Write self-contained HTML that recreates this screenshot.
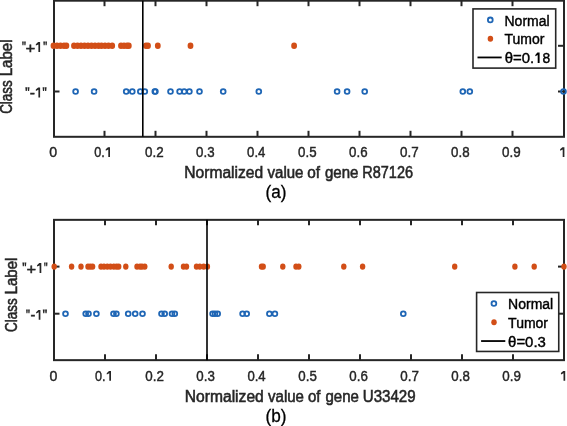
<!DOCTYPE html>
<html><head><meta charset="utf-8"><style>
html,body{margin:0;padding:0;background:#fff;}
body{width:567px;height:426px;overflow:hidden;}
svg{display:block;will-change:transform;}
text{font-family:"Liberation Sans", sans-serif;fill:#262626;}
.tk{stroke:#262626;stroke-width:0.45px;}
.lg{fill:#000;stroke:#000;stroke-width:0.4px;}
.xl{stroke:#262626;stroke-width:0.55px;}
.tg{fill:#000;stroke:#000;stroke-width:0.3px;}
</style></head><body>
<svg width="567" height="426" viewBox="0 0 567 426">
<rect width="567" height="426" fill="#fff"/>

<rect x="54.0" y="0.7" width="510.0" height="136.10000000000002" fill="none" stroke="#262626" stroke-width="2"/>
<text class="tk" x="49.15" y="157.0" font-size="15.5" textLength="7.88" lengthAdjust="spacingAndGlyphs">0</text>
<line x1="104.5" y1="136.8" x2="104.5" y2="130.8" stroke="#262626" stroke-width="2"/>
<line x1="104.5" y1="0.7" x2="104.5" y2="6.2" stroke="#262626" stroke-width="2"/>
<text class="tk" x="94.19" y="157.0" font-size="15.5" textLength="10.57" lengthAdjust="spacingAndGlyphs">0.</text>
<path d="M110.00,147.20 L110.00,156.90 L108.30,156.90 L108.30,149.53 L105.80,150.69 L105.70,149.33 L108.00,147.20 Z" fill="#262626"/>
<line x1="155.5" y1="136.8" x2="155.5" y2="130.8" stroke="#262626" stroke-width="2"/>
<line x1="155.5" y1="0.7" x2="155.5" y2="6.2" stroke="#262626" stroke-width="2"/>
<text class="tk" x="145.07" y="157.0" font-size="15.5" textLength="18.61" lengthAdjust="spacingAndGlyphs">0.2</text>
<line x1="206.5" y1="136.8" x2="206.5" y2="130.8" stroke="#262626" stroke-width="2"/>
<line x1="206.5" y1="0.7" x2="206.5" y2="6.2" stroke="#262626" stroke-width="2"/>
<text class="tk" x="196.07" y="157.0" font-size="15.5" textLength="18.49" lengthAdjust="spacingAndGlyphs">0.3</text>
<line x1="257.5" y1="136.8" x2="257.5" y2="130.8" stroke="#262626" stroke-width="2"/>
<line x1="257.5" y1="0.7" x2="257.5" y2="6.2" stroke="#262626" stroke-width="2"/>
<text class="tk" x="247.08" y="157.0" font-size="15.5" textLength="18.27" lengthAdjust="spacingAndGlyphs">0.4</text>
<line x1="308.5" y1="136.8" x2="308.5" y2="130.8" stroke="#262626" stroke-width="2"/>
<line x1="308.5" y1="0.7" x2="308.5" y2="6.2" stroke="#262626" stroke-width="2"/>
<text class="tk" x="298.07" y="157.0" font-size="15.5" textLength="18.49" lengthAdjust="spacingAndGlyphs">0.5</text>
<line x1="359.5" y1="136.8" x2="359.5" y2="130.8" stroke="#262626" stroke-width="2"/>
<line x1="359.5" y1="0.7" x2="359.5" y2="6.2" stroke="#262626" stroke-width="2"/>
<text class="tk" x="349.07" y="157.0" font-size="15.5" textLength="18.49" lengthAdjust="spacingAndGlyphs">0.6</text>
<line x1="410.5" y1="136.8" x2="410.5" y2="130.8" stroke="#262626" stroke-width="2"/>
<line x1="410.5" y1="0.7" x2="410.5" y2="6.2" stroke="#262626" stroke-width="2"/>
<text class="tk" x="400.07" y="157.0" font-size="15.5" textLength="18.61" lengthAdjust="spacingAndGlyphs">0.7</text>
<line x1="461.5" y1="136.8" x2="461.5" y2="130.8" stroke="#262626" stroke-width="2"/>
<line x1="461.5" y1="0.7" x2="461.5" y2="6.2" stroke="#262626" stroke-width="2"/>
<text class="tk" x="451.07" y="157.0" font-size="15.5" textLength="18.49" lengthAdjust="spacingAndGlyphs">0.8</text>
<line x1="512.5" y1="136.8" x2="512.5" y2="130.8" stroke="#262626" stroke-width="2"/>
<line x1="512.5" y1="0.7" x2="512.5" y2="6.2" stroke="#262626" stroke-width="2"/>
<text class="tk" x="502.07" y="157.0" font-size="15.5" textLength="18.61" lengthAdjust="spacingAndGlyphs">0.9</text>
<path d="M564.40,147.20 L564.40,156.90 L562.70,156.90 L562.70,149.53 L560.20,150.69 L560.10,149.33 L562.40,147.20 Z" fill="#262626"/>
<line x1="54.0" y1="45.8" x2="59.5" y2="45.8" stroke="#262626" stroke-width="2"/>
<line x1="564.0" y1="45.8" x2="558.0" y2="45.8" stroke="#262626" stroke-width="2"/>
<line x1="54.0" y1="91.5" x2="59.5" y2="91.5" stroke="#262626" stroke-width="2"/>
<line x1="564.0" y1="91.5" x2="558.0" y2="91.5" stroke="#262626" stroke-width="2"/>
<path d="M22.10,41.50 L23.80,41.50 L23.46,45.30 L22.44,45.30 Z" fill="#262626"/><path d="M24.10,41.50 L25.80,41.50 L25.46,45.30 L24.44,45.30 Z" fill="#262626"/>
<text class="tk" x="25.52" y="52.75" font-size="14.5" textLength="9.83" lengthAdjust="spacingAndGlyphs">+</text>
<path d="M40.10,42.00 L40.10,52.00 L38.40,52.00 L38.40,44.40 L35.90,45.60 L35.80,44.20 L38.10,42.00 Z" fill="#262626"/>
<path d="M43.30,41.50 L45.00,41.50 L44.66,45.30 L43.64,45.30 Z" fill="#262626"/><path d="M45.30,41.50 L47.00,41.50 L46.66,45.30 L45.64,45.30 Z" fill="#262626"/>
<path d="M25.30,87.30 L27.23,87.30 L26.85,91.10 L25.69,91.10 Z" fill="#262626"/><path d="M27.57,87.30 L29.50,87.30 L29.11,91.10 L27.95,91.10 Z" fill="#262626"/>
<text class="tk" x="29.89" y="97.6" font-size="14.5" textLength="5.20" lengthAdjust="spacingAndGlyphs">-</text>
<path d="M40.10,87.40 L40.10,97.50 L38.40,97.50 L38.40,89.82 L35.90,91.04 L35.80,89.62 L38.10,87.40 Z" fill="#262626"/>
<path d="M42.60,87.30 L44.44,87.30 L44.07,91.10 L42.97,91.10 Z" fill="#262626"/><path d="M44.76,87.30 L46.60,87.30 L46.23,91.10 L45.13,91.10 Z" fill="#262626"/>
<circle cx="75.6" cy="91.5" r="2.4" fill="none" stroke="#1f66b5" stroke-width="1.8"/>
<circle cx="94.1" cy="91.5" r="2.4" fill="none" stroke="#1f66b5" stroke-width="1.8"/>
<circle cx="126.2" cy="91.5" r="2.4" fill="none" stroke="#1f66b5" stroke-width="1.8"/>
<circle cx="132.3" cy="91.5" r="2.4" fill="none" stroke="#1f66b5" stroke-width="1.8"/>
<circle cx="140.3" cy="91.5" r="2.4" fill="none" stroke="#1f66b5" stroke-width="1.8"/>
<circle cx="144.8" cy="91.5" r="2.4" fill="none" stroke="#1f66b5" stroke-width="1.8"/>
<circle cx="154.8" cy="91.5" r="2.4" fill="none" stroke="#1f66b5" stroke-width="1.8"/>
<circle cx="155.4" cy="91.5" r="2.4" fill="none" stroke="#1f66b5" stroke-width="1.8"/>
<circle cx="170.5" cy="91.5" r="2.4" fill="none" stroke="#1f66b5" stroke-width="1.8"/>
<circle cx="179.6" cy="91.5" r="2.4" fill="none" stroke="#1f66b5" stroke-width="1.8"/>
<circle cx="184.2" cy="91.5" r="2.4" fill="none" stroke="#1f66b5" stroke-width="1.8"/>
<circle cx="189.4" cy="91.5" r="2.4" fill="none" stroke="#1f66b5" stroke-width="1.8"/>
<circle cx="199.5" cy="91.5" r="2.4" fill="none" stroke="#1f66b5" stroke-width="1.8"/>
<circle cx="223.2" cy="91.5" r="2.4" fill="none" stroke="#1f66b5" stroke-width="1.8"/>
<circle cx="258.8" cy="91.5" r="2.4" fill="none" stroke="#1f66b5" stroke-width="1.8"/>
<circle cx="337.1" cy="91.5" r="2.4" fill="none" stroke="#1f66b5" stroke-width="1.8"/>
<circle cx="347.1" cy="91.5" r="2.4" fill="none" stroke="#1f66b5" stroke-width="1.8"/>
<circle cx="364.7" cy="91.5" r="2.4" fill="none" stroke="#1f66b5" stroke-width="1.8"/>
<circle cx="462.8" cy="91.5" r="2.4" fill="none" stroke="#1f66b5" stroke-width="1.8"/>
<circle cx="469.8" cy="91.5" r="2.4" fill="none" stroke="#1f66b5" stroke-width="1.8"/>
<circle cx="563.5" cy="91.5" r="2.4" fill="none" stroke="#1f66b5" stroke-width="1.8"/>
<ellipse cx="53.5" cy="45.8" rx="2.9" ry="3.3" fill="#D24E17"/>
<ellipse cx="57" cy="45.8" rx="2.9" ry="3.3" fill="#D24E17"/>
<ellipse cx="60.5" cy="45.8" rx="2.9" ry="3.3" fill="#D24E17"/>
<ellipse cx="64" cy="45.8" rx="2.9" ry="3.3" fill="#D24E17"/>
<ellipse cx="66.4" cy="45.8" rx="2.9" ry="3.3" fill="#D24E17"/>
<ellipse cx="74" cy="45.8" rx="2.9" ry="3.3" fill="#D24E17"/>
<ellipse cx="77.5" cy="45.8" rx="2.9" ry="3.3" fill="#D24E17"/>
<ellipse cx="81" cy="45.8" rx="2.9" ry="3.3" fill="#D24E17"/>
<ellipse cx="84.5" cy="45.8" rx="2.9" ry="3.3" fill="#D24E17"/>
<ellipse cx="88" cy="45.8" rx="2.9" ry="3.3" fill="#D24E17"/>
<ellipse cx="91.5" cy="45.8" rx="2.9" ry="3.3" fill="#D24E17"/>
<ellipse cx="95" cy="45.8" rx="2.9" ry="3.3" fill="#D24E17"/>
<ellipse cx="98.5" cy="45.8" rx="2.9" ry="3.3" fill="#D24E17"/>
<ellipse cx="101.5" cy="45.8" rx="2.9" ry="3.3" fill="#D24E17"/>
<ellipse cx="105" cy="45.8" rx="2.9" ry="3.3" fill="#D24E17"/>
<ellipse cx="108.5" cy="45.8" rx="2.9" ry="3.3" fill="#D24E17"/>
<ellipse cx="112.2" cy="45.8" rx="2.9" ry="3.3" fill="#D24E17"/>
<ellipse cx="121" cy="45.8" rx="2.9" ry="3.3" fill="#D24E17"/>
<ellipse cx="124" cy="45.8" rx="2.9" ry="3.3" fill="#D24E17"/>
<ellipse cx="127" cy="45.8" rx="2.9" ry="3.3" fill="#D24E17"/>
<ellipse cx="128.8" cy="45.8" rx="2.9" ry="3.3" fill="#D24E17"/>
<ellipse cx="146" cy="45.8" rx="2.9" ry="3.3" fill="#D24E17"/>
<ellipse cx="148" cy="45.8" rx="2.9" ry="3.3" fill="#D24E17"/>
<ellipse cx="157.8" cy="45.8" rx="2.9" ry="3.3" fill="#D24E17"/>
<ellipse cx="190.5" cy="45.8" rx="2.9" ry="3.3" fill="#D24E17"/>
<ellipse cx="294.1" cy="45.8" rx="2.9" ry="3.3" fill="#D24E17"/>
<line x1="142.8" y1="0.7" x2="142.8" y2="136.8" stroke="#000" stroke-width="1.6"/>
<g transform="translate(11.8,0) rotate(-90)">
<text class="xl" x="-113.82" y="0" font-size="16" textLength="33.55" lengthAdjust="spacingAndGlyphs">Class</text>
<text class="xl" x="-76.34" y="0" font-size="16" textLength="36.88" lengthAdjust="spacingAndGlyphs">Label</text>
</g>
<text class="xl" x="184.33" y="177.9" font-size="16" textLength="78.83" lengthAdjust="spacingAndGlyphs">Normalized</text>
<text class="xl" x="267.53" y="177.9" font-size="16" textLength="35.93" lengthAdjust="spacingAndGlyphs">value</text>
<text class="xl" x="307.14" y="177.9" font-size="16" textLength="12.79" lengthAdjust="spacingAndGlyphs">of</text>
<text class="xl" x="324.94" y="177.9" font-size="16" textLength="33.39" lengthAdjust="spacingAndGlyphs">gene</text>
<text class="xl" x="362.30" y="177.9" font-size="16" textLength="50.69" lengthAdjust="spacingAndGlyphs">R87126</text>
<text class="tg" x="276" y="197.7" font-size="18" text-anchor="middle" textLength="21" lengthAdjust="spacingAndGlyphs">(a)</text>
<rect x="473" y="8.9" width="82.7" height="59.2" fill="#fff" stroke="#262626" stroke-width="1.6"/>
<circle cx="490.3" cy="19.9" r="2.4" fill="none" stroke="#1f66b5" stroke-width="1.8"/>
<ellipse cx="490.4" cy="38.65" rx="2.75" ry="3.0" fill="#D24E17"/>
<line x1="477.5" y1="57.449999999999996" x2="501.7" y2="57.449999999999996" stroke="#000" stroke-width="1.8"/>
<text class="lg" x="504.5" y="25.700000000000003" font-size="14">Normal</text>
<text class="lg" x="504.5" y="44.199999999999996" font-size="14">Tumor</text>
<text class="lg" x="504.77" y="63.05" font-size="14" textLength="29.45" lengthAdjust="spacingAndGlyphs">θ=0.</text>
<path d="M539.60,52.60 L539.60,63.00 L537.70,63.00 L537.70,55.10 L535.40,56.34 L535.30,54.89 L537.40,52.60 Z" fill="#000"/>
<text class="lg" x="542.53" y="63.05" font-size="14" textLength="7.69" lengthAdjust="spacingAndGlyphs">8</text>
<rect x="54.0" y="219.85" width="510.0" height="140.29999999999998" fill="none" stroke="#262626" stroke-width="2"/>
<text class="tk" x="49.45" y="380.8" font-size="15.5" textLength="7.88" lengthAdjust="spacingAndGlyphs">0</text>
<line x1="105.0" y1="360.15" x2="105.0" y2="354.15" stroke="#262626" stroke-width="2"/>
<line x1="105.0" y1="219.85" x2="105.0" y2="225.35" stroke="#262626" stroke-width="2"/>
<text class="tk" x="94.99" y="380.8" font-size="15.5" textLength="10.57" lengthAdjust="spacingAndGlyphs">0.</text>
<path d="M111.00,371.00 L111.00,380.80 L109.30,380.80 L109.30,373.35 L106.80,374.53 L106.70,373.16 L109.00,371.00 Z" fill="#262626"/>
<line x1="156.0" y1="360.15" x2="156.0" y2="354.15" stroke="#262626" stroke-width="2"/>
<line x1="156.0" y1="219.85" x2="156.0" y2="225.35" stroke="#262626" stroke-width="2"/>
<text class="tk" x="145.37" y="380.8" font-size="15.5" textLength="18.61" lengthAdjust="spacingAndGlyphs">0.2</text>
<line x1="207.0" y1="360.15" x2="207.0" y2="354.15" stroke="#262626" stroke-width="2"/>
<line x1="207.0" y1="219.85" x2="207.0" y2="225.35" stroke="#262626" stroke-width="2"/>
<text class="tk" x="196.37" y="380.8" font-size="15.5" textLength="18.49" lengthAdjust="spacingAndGlyphs">0.3</text>
<line x1="258.0" y1="360.15" x2="258.0" y2="354.15" stroke="#262626" stroke-width="2"/>
<line x1="258.0" y1="219.85" x2="258.0" y2="225.35" stroke="#262626" stroke-width="2"/>
<text class="tk" x="247.38" y="380.8" font-size="15.5" textLength="18.27" lengthAdjust="spacingAndGlyphs">0.4</text>
<line x1="309.0" y1="360.15" x2="309.0" y2="354.15" stroke="#262626" stroke-width="2"/>
<line x1="309.0" y1="219.85" x2="309.0" y2="225.35" stroke="#262626" stroke-width="2"/>
<text class="tk" x="298.37" y="380.8" font-size="15.5" textLength="18.49" lengthAdjust="spacingAndGlyphs">0.5</text>
<line x1="360.0" y1="360.15" x2="360.0" y2="354.15" stroke="#262626" stroke-width="2"/>
<line x1="360.0" y1="219.85" x2="360.0" y2="225.35" stroke="#262626" stroke-width="2"/>
<text class="tk" x="349.37" y="380.8" font-size="15.5" textLength="18.49" lengthAdjust="spacingAndGlyphs">0.6</text>
<line x1="411.0" y1="360.15" x2="411.0" y2="354.15" stroke="#262626" stroke-width="2"/>
<line x1="411.0" y1="219.85" x2="411.0" y2="225.35" stroke="#262626" stroke-width="2"/>
<text class="tk" x="400.37" y="380.8" font-size="15.5" textLength="18.61" lengthAdjust="spacingAndGlyphs">0.7</text>
<line x1="462.0" y1="360.15" x2="462.0" y2="354.15" stroke="#262626" stroke-width="2"/>
<line x1="462.0" y1="219.85" x2="462.0" y2="225.35" stroke="#262626" stroke-width="2"/>
<text class="tk" x="451.37" y="380.8" font-size="15.5" textLength="18.49" lengthAdjust="spacingAndGlyphs">0.8</text>
<line x1="513.0" y1="360.15" x2="513.0" y2="354.15" stroke="#262626" stroke-width="2"/>
<line x1="513.0" y1="219.85" x2="513.0" y2="225.35" stroke="#262626" stroke-width="2"/>
<text class="tk" x="502.37" y="380.8" font-size="15.5" textLength="18.61" lengthAdjust="spacingAndGlyphs">0.9</text>
<path d="M565.20,370.90 L565.20,380.70 L563.50,380.70 L563.50,373.25 L561.00,374.43 L560.90,373.06 L563.20,370.90 Z" fill="#262626"/>
<line x1="54.0" y1="266.6" x2="59.5" y2="266.6" stroke="#262626" stroke-width="2"/>
<line x1="564.0" y1="266.6" x2="558.0" y2="266.6" stroke="#262626" stroke-width="2"/>
<line x1="54.0" y1="313.7" x2="59.5" y2="313.7" stroke="#262626" stroke-width="2"/>
<line x1="564.0" y1="313.7" x2="558.0" y2="313.7" stroke="#262626" stroke-width="2"/>
<path d="M22.40,262.50 L24.19,262.50 L23.84,266.30 L22.76,266.30 Z" fill="#262626"/><path d="M24.51,262.50 L26.30,262.50 L25.94,266.30 L24.86,266.30 Z" fill="#262626"/>
<text class="tk" x="26.53" y="273.5" font-size="14.5" textLength="9.60" lengthAdjust="spacingAndGlyphs">+</text>
<path d="M41.30,263.00 L41.30,273.00 L39.60,273.00 L39.60,265.40 L37.10,266.60 L37.00,265.20 L39.30,263.00 Z" fill="#262626"/>
<path d="M44.10,262.50 L45.66,262.50 L45.35,266.30 L44.41,266.30 Z" fill="#262626"/><path d="M45.94,262.50 L47.50,262.50 L47.19,266.30 L46.25,266.30 Z" fill="#262626"/>
<path d="M26.10,309.40 L27.80,309.40 L27.46,313.20 L26.44,313.20 Z" fill="#262626"/><path d="M28.10,309.40 L29.80,309.40 L29.46,313.20 L28.44,313.20 Z" fill="#262626"/>
<text class="tk" x="30.42" y="320.0" font-size="14.5" textLength="4.84" lengthAdjust="spacingAndGlyphs">-</text>
<path d="M40.40,310.00 L40.40,319.80 L38.70,319.80 L38.70,312.35 L36.20,313.53 L36.10,312.16 L38.40,310.00 Z" fill="#262626"/>
<path d="M42.80,309.40 L44.73,309.40 L44.35,313.20 L43.19,313.20 Z" fill="#262626"/><path d="M45.07,309.40 L47.00,309.40 L46.61,313.20 L45.45,313.20 Z" fill="#262626"/>
<circle cx="65.5" cy="313.7" r="2.4" fill="none" stroke="#1f66b5" stroke-width="1.8"/>
<circle cx="85.7" cy="313.7" r="2.4" fill="none" stroke="#1f66b5" stroke-width="1.8"/>
<circle cx="88.5" cy="313.7" r="2.4" fill="none" stroke="#1f66b5" stroke-width="1.8"/>
<circle cx="96.4" cy="313.7" r="2.4" fill="none" stroke="#1f66b5" stroke-width="1.8"/>
<circle cx="113.5" cy="313.7" r="2.4" fill="none" stroke="#1f66b5" stroke-width="1.8"/>
<circle cx="116.4" cy="313.7" r="2.4" fill="none" stroke="#1f66b5" stroke-width="1.8"/>
<circle cx="128.2" cy="313.7" r="2.4" fill="none" stroke="#1f66b5" stroke-width="1.8"/>
<circle cx="135.2" cy="313.7" r="2.4" fill="none" stroke="#1f66b5" stroke-width="1.8"/>
<circle cx="142.5" cy="313.7" r="2.4" fill="none" stroke="#1f66b5" stroke-width="1.8"/>
<circle cx="161.5" cy="313.7" r="2.4" fill="none" stroke="#1f66b5" stroke-width="1.8"/>
<circle cx="164.7" cy="313.7" r="2.4" fill="none" stroke="#1f66b5" stroke-width="1.8"/>
<circle cx="172" cy="313.7" r="2.4" fill="none" stroke="#1f66b5" stroke-width="1.8"/>
<circle cx="174.8" cy="313.7" r="2.4" fill="none" stroke="#1f66b5" stroke-width="1.8"/>
<circle cx="212.6" cy="313.7" r="2.4" fill="none" stroke="#1f66b5" stroke-width="1.8"/>
<circle cx="215" cy="313.7" r="2.4" fill="none" stroke="#1f66b5" stroke-width="1.8"/>
<circle cx="217.7" cy="313.7" r="2.4" fill="none" stroke="#1f66b5" stroke-width="1.8"/>
<circle cx="242.6" cy="313.7" r="2.4" fill="none" stroke="#1f66b5" stroke-width="1.8"/>
<circle cx="246.7" cy="313.7" r="2.4" fill="none" stroke="#1f66b5" stroke-width="1.8"/>
<circle cx="269.4" cy="313.7" r="2.4" fill="none" stroke="#1f66b5" stroke-width="1.8"/>
<circle cx="274.9" cy="313.7" r="2.4" fill="none" stroke="#1f66b5" stroke-width="1.8"/>
<circle cx="403.3" cy="313.7" r="2.4" fill="none" stroke="#1f66b5" stroke-width="1.8"/>
<ellipse cx="54.2" cy="266.6" rx="2.7" ry="3.2" fill="#D24E17"/>
<ellipse cx="71.6" cy="266.6" rx="2.7" ry="3.2" fill="#D24E17"/>
<ellipse cx="81" cy="266.6" rx="2.7" ry="3.2" fill="#D24E17"/>
<ellipse cx="88" cy="266.6" rx="2.7" ry="3.2" fill="#D24E17"/>
<ellipse cx="90.3" cy="266.6" rx="2.7" ry="3.2" fill="#D24E17"/>
<ellipse cx="92.6" cy="266.6" rx="2.7" ry="3.2" fill="#D24E17"/>
<ellipse cx="101" cy="266.6" rx="2.7" ry="3.2" fill="#D24E17"/>
<ellipse cx="104" cy="266.6" rx="2.7" ry="3.2" fill="#D24E17"/>
<ellipse cx="107.3" cy="266.6" rx="2.7" ry="3.2" fill="#D24E17"/>
<ellipse cx="110.5" cy="266.6" rx="2.7" ry="3.2" fill="#D24E17"/>
<ellipse cx="113.8" cy="266.6" rx="2.7" ry="3.2" fill="#D24E17"/>
<ellipse cx="116.5" cy="266.6" rx="2.7" ry="3.2" fill="#D24E17"/>
<ellipse cx="118.7" cy="266.6" rx="2.7" ry="3.2" fill="#D24E17"/>
<ellipse cx="125.8" cy="266.6" rx="2.7" ry="3.2" fill="#D24E17"/>
<ellipse cx="137" cy="266.6" rx="2.7" ry="3.2" fill="#D24E17"/>
<ellipse cx="140" cy="266.6" rx="2.7" ry="3.2" fill="#D24E17"/>
<ellipse cx="142" cy="266.6" rx="2.7" ry="3.2" fill="#D24E17"/>
<ellipse cx="144.8" cy="266.6" rx="2.7" ry="3.2" fill="#D24E17"/>
<ellipse cx="171.2" cy="266.6" rx="2.7" ry="3.2" fill="#D24E17"/>
<ellipse cx="183.5" cy="266.6" rx="2.7" ry="3.2" fill="#D24E17"/>
<ellipse cx="186.5" cy="266.6" rx="2.7" ry="3.2" fill="#D24E17"/>
<ellipse cx="196.5" cy="266.6" rx="2.7" ry="3.2" fill="#D24E17"/>
<ellipse cx="199.8" cy="266.6" rx="2.7" ry="3.2" fill="#D24E17"/>
<ellipse cx="203.7" cy="266.6" rx="2.7" ry="3.2" fill="#D24E17"/>
<ellipse cx="207.4" cy="266.6" rx="2.7" ry="3.2" fill="#D24E17"/>
<ellipse cx="261.5" cy="266.6" rx="2.7" ry="3.2" fill="#D24E17"/>
<ellipse cx="263.2" cy="266.6" rx="2.7" ry="3.2" fill="#D24E17"/>
<ellipse cx="282.8" cy="266.6" rx="2.7" ry="3.2" fill="#D24E17"/>
<ellipse cx="296" cy="266.6" rx="2.7" ry="3.2" fill="#D24E17"/>
<ellipse cx="298.8" cy="266.6" rx="2.7" ry="3.2" fill="#D24E17"/>
<ellipse cx="343.8" cy="266.6" rx="2.7" ry="3.2" fill="#D24E17"/>
<ellipse cx="362.6" cy="266.6" rx="2.7" ry="3.2" fill="#D24E17"/>
<ellipse cx="454.7" cy="266.6" rx="2.7" ry="3.2" fill="#D24E17"/>
<ellipse cx="514.9" cy="266.6" rx="2.7" ry="3.2" fill="#D24E17"/>
<ellipse cx="534.2" cy="266.6" rx="2.7" ry="3.2" fill="#D24E17"/>
<ellipse cx="564" cy="266.6" rx="2.7" ry="3.2" fill="#D24E17"/>
<line x1="207.0" y1="219.85" x2="207.0" y2="360.15" stroke="#000" stroke-width="1.6"/>
<g transform="translate(16.5,0) rotate(-90)">
<text class="xl" x="-331.92" y="0" font-size="16" textLength="33.55" lengthAdjust="spacingAndGlyphs">Class</text>
<text class="xl" x="-294.44" y="0" font-size="16" textLength="36.88" lengthAdjust="spacingAndGlyphs">Label</text>
</g>
<text class="xl" x="184.82" y="401.6" font-size="16" textLength="78.93" lengthAdjust="spacingAndGlyphs">Normalized</text>
<text class="xl" x="268.03" y="401.6" font-size="16" textLength="35.93" lengthAdjust="spacingAndGlyphs">value</text>
<text class="xl" x="307.94" y="401.6" font-size="16" textLength="12.48" lengthAdjust="spacingAndGlyphs">of</text>
<text class="xl" x="325.44" y="401.6" font-size="16" textLength="33.39" lengthAdjust="spacingAndGlyphs">gene</text>
<text class="xl" x="362.76" y="401.6" font-size="16" textLength="52.85" lengthAdjust="spacingAndGlyphs">U33429</text>
<text class="tg" x="276" y="422.0" font-size="18" text-anchor="middle" textLength="21" lengthAdjust="spacingAndGlyphs">(b)</text>
<rect x="476.6" y="292.5" width="82.15" height="58.95" fill="#fff" stroke="#262626" stroke-width="1.6"/>
<circle cx="493.90000000000003" cy="303.5" r="2.4" fill="none" stroke="#1f66b5" stroke-width="1.8"/>
<ellipse cx="494.0" cy="322.25" rx="2.75" ry="3.0" fill="#D24E17"/>
<line x1="481.1" y1="341.05" x2="505.3" y2="341.05" stroke="#000" stroke-width="1.8"/>
<text class="lg" x="508.1" y="309.3" font-size="14">Normal</text>
<text class="lg" x="508.1" y="327.8" font-size="14">Tumor</text>
<text class="lg" x="508.1" y="346.65" font-size="14" textLength="37.8" lengthAdjust="spacingAndGlyphs">θ=0.3</text>
</svg>
</body></html>
